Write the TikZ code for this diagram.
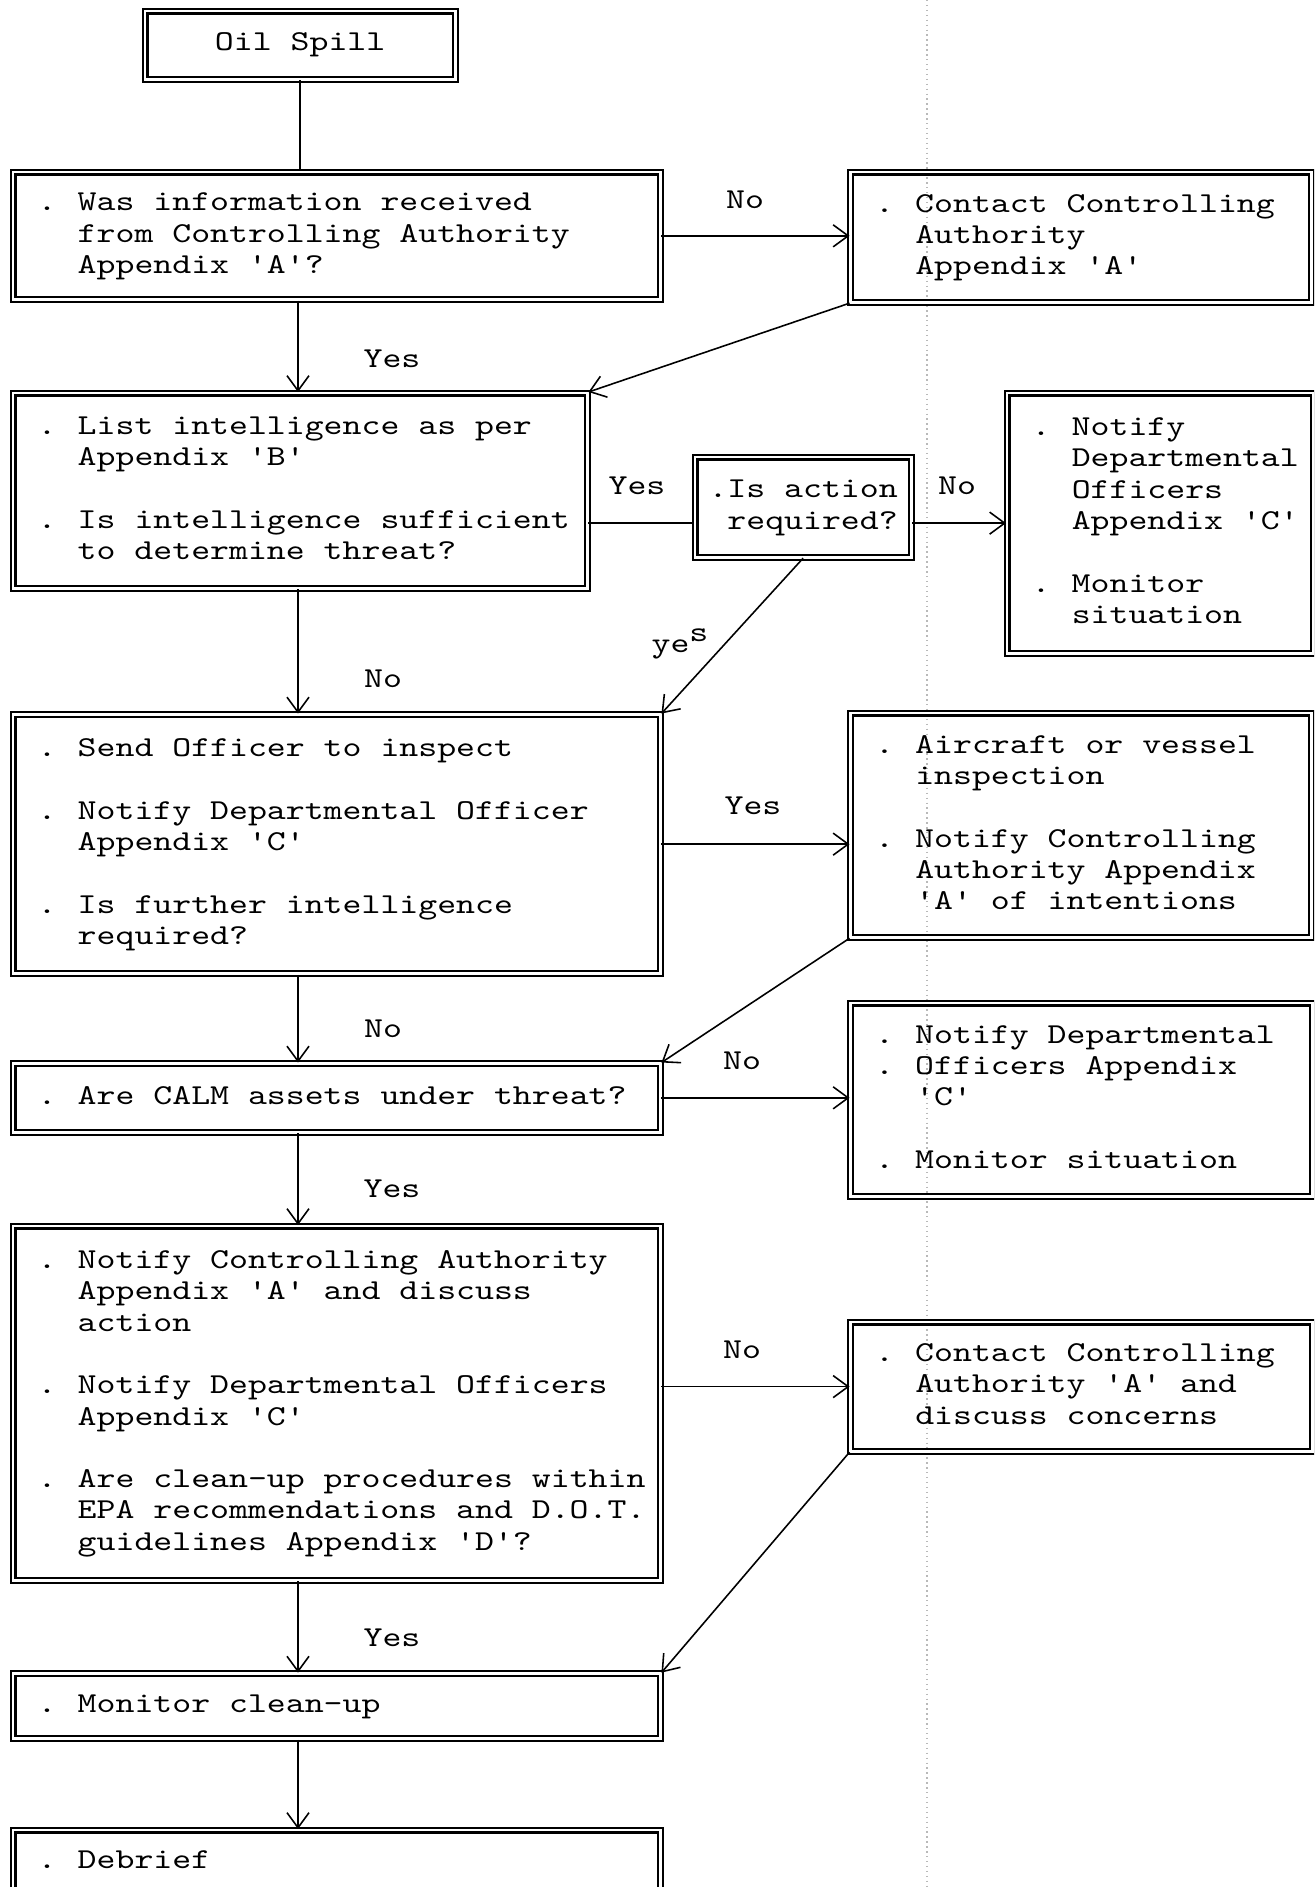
\documentclass[tikz,border=0pt]{standalone}
\usepackage{fontspec}
\usetikzlibrary{arrows.meta}
\newfontfamily\flowtt{lmmono10-regular}[Extension=.otf, FakeStretch=1.25]
\newcommand{\flowfont}{\flowtt\fontsize{8.2}{8.9}\selectfont}

\begin{document}
\begin{tikzpicture}[x=0.01cm, y=-0.01cm,
	flowbox/.style={draw, line width=0.6pt, double, double distance=0.8pt, anchor=north west, font=\flowfont},
	boxtext/.style={anchor=west, inner sep=0pt, font=\flowfont},
	answer/.style={font=\flowfont},
	flowarrow/.style={-{Straight Barb[length=1.5mm,width=2.2mm]}, line width=0.45pt},
	link/.style={line width=0.45pt}]
	\useasboundingbox (0,0) rectangle (1314,1887);
	\clip (0,0) rectangle (1314,1887);

	% fold of the scanned page
	\coordinate (foldtop) at (927,0);
	\coordinate (foldbot) at (927,1887);
	\draw[gray!55, densely dotted, line width=0.4pt] (foldtop) -- (foldbot);
	\coordinate (spine) at (298,0);

	% boxes
	\node[flowbox, minimum width=3.1cm, minimum height=0.68cm] (oil) at (144,10) {Oil Spill};
	\node[flowbox, minimum width=6.47cm, minimum height=1.275cm] (info) at (12,171) {};
	\node[flowbox, minimum width=5.74cm, minimum height=1.95cm] (list) at (12,392) {};
	\node[flowbox, minimum width=6.47cm, minimum height=2.59cm] (send) at (12,713.5) {};
	\node[flowbox, minimum width=6.47cm, minimum height=0.685cm] (calm) at (12,1062.5) {};
	\node[flowbox, minimum width=6.47cm, minimum height=3.54cm] (disc) at (12,1225) {};
	\node[flowbox, minimum width=6.47cm, minimum height=0.65cm] (mon) at (12,1672.6) {};
	\node[flowbox, minimum width=6.47cm, minimum height=0.65cm] (debrief) at (12,1829) {};
	\node[flowbox, minimum width=4.61cm, minimum height=1.3cm] (contact) at (849.5,171) {};
	\node[flowbox, inner xsep=0.1cm, minimum width=2.16cm, minimum height=1.0cm] (action) at (694,456) {\begin{tabular}{@{}l@{}l@{}}
		. & Is action\\
		  & required?
	\end{tabular}};
	\node[flowbox, minimum width=3.06cm, minimum height=2.6cm] (notify) at (1006,392) {};
	\node[flowbox, minimum width=4.61cm, minimum height=2.24cm] (insp) at (849.5,712) {};
	\node[flowbox, minimum width=4.62cm, minimum height=1.93cm] (alert) at (849.5,1002) {};
	\node[flowbox, minimum width=4.62cm, minimum height=1.29cm] (concern) at (849.5,1321) {};

	% box texts
	\node[boxtext] (infotext) at ([xshift=0.25cm]info.west) {\begin{tabular}{@{}p{0.4cm}@{}l@{}}
		. & Was information received\\
		  & from Controlling Authority\\
		  & Appendix 'A'?
	\end{tabular}};
	\node[boxtext] (listtext) at ([xshift=0.25cm]list.west) {\begin{tabular}{@{}p{0.4cm}@{}l@{}}
		. & List intelligence as per\\
		  & Appendix 'B'\\[8.9pt]
		. & Is intelligence sufficient\\
		  & to determine threat?
	\end{tabular}};
	\node[boxtext] (sendtext) at ([xshift=0.25cm]send.west) {\begin{tabular}{@{}p{0.4cm}@{}l@{}}
		. & Send Officer to inspect\\[8.9pt]
		. & Notify Departmental Officer\\
		  & Appendix 'C'\\[8.9pt]
		. & Is further intelligence\\
		  & required?
	\end{tabular}};
	\node[boxtext] (calmtext) at ([xshift=0.25cm]calm.west) {\begin{tabular}{@{}p{0.4cm}@{}l@{}}
		. & Are CALM assets under threat?
	\end{tabular}};
	\node[boxtext] (disctext) at ([xshift=0.25cm]disc.west) {\begin{tabular}{@{}p{0.4cm}@{}l@{}}
		. & Notify Controlling Authority\\
		  & Appendix 'A' and discuss\\
		  & action\\[8.9pt]
		. & Notify Departmental Officers\\
		  & Appendix 'C'\\[8.9pt]
		. & Are clean-up procedures within\\
		  & EPA recommendations and D.O.T.\\
		  & guidelines Appendix 'D'?
	\end{tabular}};
	\node[boxtext] (montext) at ([xshift=0.25cm]mon.west) {\begin{tabular}{@{}p{0.4cm}@{}l@{}}
		. & Monitor clean-up
	\end{tabular}};
	\node[boxtext] (debrieftext) at ([xshift=0.25cm]debrief.west) {\begin{tabular}{@{}p{0.4cm}@{}l@{}}
		. & Debrief
	\end{tabular}};
	\node[boxtext] (contacttext) at ([xshift=0.25cm]contact.west) {\begin{tabular}{@{}p{0.4cm}@{}l@{}}
		. & Contact Controlling\\
		  & Authority\\
		  & Appendix 'A'
	\end{tabular}};
	\node[boxtext] (notifytext) at ([xshift=0.25cm]notify.west) {\begin{tabular}{@{}p{0.4cm}@{}l@{}}
		. & Notify\\
		  & Departmental\\
		  & Officers\\
		  & Appendix 'C'\\[8.9pt]
		. & Monitor\\
		  & situation
	\end{tabular}};
	\node[boxtext] (insptext) at ([xshift=0.25cm]insp.west) {\begin{tabular}{@{}p{0.4cm}@{}l@{}}
		. & Aircraft or vessel\\
		  & inspection\\[8.9pt]
		. & Notify Controlling\\
		  & Authority Appendix\\
		  & 'A' of intentions
	\end{tabular}};
	\node[boxtext] (alerttext) at ([xshift=0.25cm]alert.west) {\begin{tabular}{@{}p{0.4cm}@{}l@{}}
		. & Notify Departmental\\
		. & Officers Appendix\\
		  & 'C'\\[8.9pt]
		. & Monitor situation
	\end{tabular}};
	\node[boxtext] (concerntext) at ([xshift=0.25cm]concern.west) {\begin{tabular}{@{}p{0.4cm}@{}l@{}}
		. & Contact Controlling\\
		  & Authority 'A' and\\
		  & discuss concerns
	\end{tabular}};

	% answers
	\node[answer] (no1) at (745,200) {No};
	\node[answer] (yes1) at (392,359) {Yes};
	\node[answer] (yes2) at (637,486) {Yes};
	\node[answer] (no2) at (957,486) {No};
	\node[answer] (yes3) at (680,644) {ye\raisebox{0.9ex}{s}};
	\node[answer] (no3) at (383,679) {No};
	\node[answer] (yes4) at (753,806) {Yes};
	\node[answer] (no4) at (383,1029) {No};
	\node[answer] (no5) at (742,1061) {No};
	\node[answer] (yes5) at (392,1189) {Yes};
	\node[answer] (no6) at (742,1350) {No};
	\node[answer] (yes6) at (392,1638) {Yes};

	% connectors
	\draw[link] (oil.south) -- (oil.south |- info.north);
	\draw[flowarrow] (info.east) -- (info.east -| contact.west);
	\draw[flowarrow] (info.south -| spine) -- (list.north -| spine);
	\draw[flowarrow] (contact.south west) -- (list.north east);
	\draw[link] (list.east |- notify.west) -- (action.west |- notify.west);
	\draw[flowarrow] (action.east |- notify.west) -- (notify.west);
	\draw[flowarrow] (action.south) -- (send.north east);
	\draw[flowarrow] (list.south -| spine) -- (send.north -| spine);
	\draw[flowarrow] (send.east) -- (send.east -| insp.west);
	\draw[flowarrow] (insp.south west) -- (calm.north east);
	\draw[flowarrow] (send.south -| spine) -- (calm.north -| spine);
	\draw[flowarrow] (calm.east) -- (calm.east -| alert.west);
	\draw[flowarrow] (calm.south -| spine) -- (disc.north -| spine);
	\draw[flowarrow] (disc.east |- concern.west) -- (concern.west);
	\draw[flowarrow] (concern.south west) -- (mon.north east);
	\draw[flowarrow] (disc.south -| spine) -- (mon.north -| spine);
	\draw[flowarrow] (mon.south -| spine) -- (debrief.north -| spine);
\end{tikzpicture}
\end{document}
